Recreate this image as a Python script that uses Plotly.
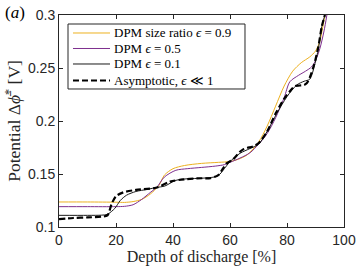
import plotly.graph_objects as go

# --- data ---
x_e09 = [0, 10, 20, 23, 26, 29, 32, 35, 37, 40, 44, 50, 56, 60, 63, 66, 70, 73, 76, 79, 82, 85, 88, 90, 91.5, 92.5, 93.3]
v_e09 = [0.1236, 0.1236, 0.1234, 0.1232, 0.124, 0.126, 0.131, 0.139, 0.149, 0.155, 0.158, 0.160, 0.161, 0.1618,
         0.164, 0.168, 0.180, 0.195, 0.214, 0.233, 0.247, 0.255, 0.2605, 0.266, 0.275, 0.288, 0.30]

x_e05 = [0, 10, 20, 23, 26, 29, 32, 34.3, 37, 41, 45, 50, 55, 58, 60, 63.5, 67, 70, 73, 76, 79, 81, 84, 86.5,
         88.6, 90, 91.5, 93, 94]
v_e05 = [0.1192, 0.1192, 0.1192, 0.1195, 0.121, 0.126, 0.1325, 0.1374, 0.1472, 0.1535, 0.155, 0.1562, 0.1575,
         0.1588, 0.161, 0.165, 0.170, 0.178, 0.188, 0.203, 0.222, 0.237, 0.243, 0.247, 0.251, 0.257, 0.268, 0.285, 0.30]

x_e01 = [0, 10, 15, 17, 19.6, 21.5, 23.7, 27, 31, 34.3, 37, 41, 45, 50, 55, 56.5, 58, 60, 63.5, 67, 70, 73, 76.4,
         80, 83.4, 86, 88, 89.8, 91, 92.2, 93.3]
v_e01 = [0.111, 0.111, 0.1112, 0.112, 0.1176, 0.125, 0.130, 0.1335, 0.1355, 0.1374, 0.1385, 0.144, 0.1455, 0.146,
         0.1475, 0.150, 0.155, 0.1616, 0.1695, 0.174, 0.178, 0.190, 0.207, 0.223, 0.234, 0.2375, 0.2395, 0.254,
         0.268, 0.289, 0.30]

x_asy = [0, 5, 10, 15, 17, 18.5, 20, 22.6, 27, 34, 39, 44, 50, 53, 55.9, 57.5, 58.8, 61, 63.5, 64.5, 66, 68, 70,
         73, 76, 79, 81, 82.8, 84.5, 86, 86.9, 88, 89.5, 91, 92.2, 93.3]
v_asy = [0.1075, 0.1085, 0.109, 0.1098, 0.111, 0.122, 0.129, 0.1327, 0.135, 0.137, 0.1428, 0.145, 0.146, 0.146,
         0.149, 0.155, 0.160, 0.1636, 0.171, 0.173, 0.1745, 0.176, 0.179, 0.190, 0.207, 0.221, 0.228, 0.233, 0.2335,
         0.234, 0.2356, 0.241, 0.253, 0.27, 0.289, 0.30]

names = ["DPM size ratio <i>ϵ</i> = 0.9", "DPM <i>ϵ</i> = 0.5", "DPM <i>ϵ</i> = 0.1",
         "Asymptotic, <i>ϵ</i> ≪ 1"]
x_ticks = [0, 20, 40, 60, 80, 100]
y_ticks = [0.1, 0.15, 0.2, 0.25, 0.3]
y_tick_text = ["0.1", "0.15", "0.2", "0.25", "0.3"]

styles = [
    dict(color="#EDB120", width=1),
    dict(color="#7E2F8E", width=1),
    dict(color="#1a1a1a", width=1),
    dict(color="#000000", width=2.2, dash="6px,3px"),
]
series = [(x_e09, v_e09), (x_e05, v_e05), (x_e01, v_e01), (x_asy, v_asy)]

fig = go.Figure()
for (xs, vs), name, st in zip(series, names, styles):
    fig.add_trace(go.Scatter(x=xs, y=vs, mode="lines", name=name, showlegend=False,
                             line=dict(shape="spline", smoothing=0.8, **st)))

axis_common = dict(showline=True, linecolor="#262626", linewidth=1, mirror="ticks", ticks="inside",
                   ticklen=4, tickcolor="#262626", showgrid=False, zeroline=False, automargin=False,
                   tickfont=dict(family="Liberation Sans", size=14, color="#262626"))

fig.update_xaxes(range=[0, 100], tickvals=x_ticks, **axis_common,
                 title=dict(text="Depth of discharge [%]", font=dict(family="Liberation Serif", size=16, color="#262626"),
                            standoff=2))
fig.update_yaxes(range=[0.1, 0.3], tickvals=y_ticks, ticktext=y_tick_text, **axis_common,
                 title=dict(text="Potential Δ<i>ϕ̄</i><sup>*</sup> [V]",
                            font=dict(family="Liberation Serif", size=17.5, color="#262626"), standoff=2))

# custom legend (box, line samples, labels) in paper coordinates
leg_box = dict(x0=0.0316, x1=0.6526, y0=0.651, y1=0.9575)
leg_rows = [0.9151, 0.8420, 0.7689, 0.6910]
leg_line_x = (0.0491, 0.179)
leg_text_x = 0.186

shapes = [dict(type="rect", xref="paper", yref="paper", line=dict(color="#262626", width=1),
               fillcolor="white", layer="above", **leg_box)]
annotations = []
for yrow, name, st in zip(leg_rows, names, styles):
    shapes.append(dict(type="line", xref="paper", yref="paper", x0=leg_line_x[0], x1=leg_line_x[1],
                       y0=yrow, y1=yrow, layer="above", line=st))
    annotations.append(dict(text=name, xref="paper", yref="paper", x=leg_text_x, y=yrow,
                            xanchor="left", yanchor="middle", showarrow=False,
                            font=dict(family="Liberation Serif", size=13, color="#000000")))

annotations.append(dict(text="(<i>a</i>)", xref="paper", yref="paper", x=-0.195, y=1.068,
                        xanchor="left", yanchor="top", showarrow=False,
                        font=dict(family="Liberation Serif", size=17, color="#000000")))

fig.update_layout(
    width=357, height=268,
    margin=dict(l=59, r=13, t=15, b=41),
    paper_bgcolor="white", plot_bgcolor="white",
    showlegend=False,
    shapes=shapes,
    annotations=annotations,
)

fig.write_html("out.html", config={"displayModeBar": False},
               post_script="document.body.style.margin='0px';")
